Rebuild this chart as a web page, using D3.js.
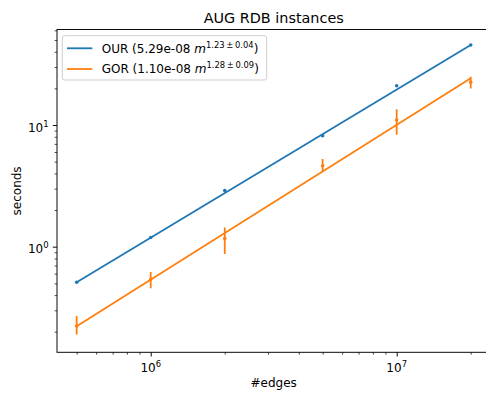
<!DOCTYPE html>
<html><head><meta charset="utf-8">
<script src="https://cdn.jsdelivr.net/npm/d3@7"></script>
<style>body{margin:0;background:#fff} text{font-family:"DejaVu Sans",sans-serif;fill:#000}</style>
</head><body><svg id="c" width="486" height="394"></svg>
<script>
// data
const edges = [5e5, 1e6, 2e6, 5e6, 1e7, 2e7];
const ourSec = [0.51, 1.19, 2.89, 8.17, 21.0, 45.4];
const ourLo = [0.505, 1.18, 2.86, 8.05, 20.7, 45.0];
const ourHi = [0.515, 1.20, 2.92, 8.30, 21.3, 45.8];
const gorSec = [0.223, 0.54, 1.17, 4.63, 11.0, 22.5];
const gorLo = [0.19, 0.455, 0.87, 4.13, 8.3, 20.0];
const gorHi = [0.269, 0.62, 1.44, 5.25, 13.5, 24.9];
const fitX = [5e5, 2e7];
const fitOur = [0.51, 45.4];
const fitGor = [0.222, 24.2];
const xMajor = [1e6, 1e7];
const xMajorExp = ["6", "7"];
const xMinor = [5e5, 6e5, 7e5, 8e5, 9e5, 2e6, 3e6, 4e6, 5e6, 6e6, 7e6, 8e6, 9e6, 2e7];
const yMajor = [1, 10];
const yMajorExp = ["0", "1"];
const yMinor = [0.2, 0.3, 0.4, 0.5, 0.6, 0.7, 0.8, 0.9, 2, 3, 4, 5, 6, 7, 8, 9, 20, 30, 40, 50, 60];
const series = [
  {name: "OUR", coef: "5.29e-08", exp: "1.23\u2009\u00b1\u20090.04", color: "#1f77b4", y: ourSec, lo: ourLo, hi: ourHi, fit: fitOur},
  {name: "GOR", coef: "1.10e-08", exp: "1.28\u2009\u00b1\u20090.09", color: "#ff7f0e", y: gorSec, lo: gorLo, hi: gorHi, fit: fitGor}
];

const svg = d3.select("#c");
const L = 57, R = 490.4, T = 29.5, B = 352.3;
const x = d3.scaleLog().domain([Math.pow(10, 5.619), Math.pow(10, 7.381)]).range([L, R]);
const y = d3.scaleLog().domain([Math.pow(10, -0.868), Math.pow(10, 1.785)]).range([B, T]);

const plot = svg.append("g");
plot.append("clipPath").attr("id", "clip").append("rect").attr("x", L).attr("y", T).attr("width", R - L).attr("height", B - T);
const g = plot.append("g").attr("clip-path", "url(#clip)");

series.forEach(s => {
  g.append("path").datum(fitX.map((v, i) => [v, s.fit[i]]))
    .attr("d", d3.line().x(d => x(d[0])).y(d => y(d[1])))
    .attr("fill", "none").attr("stroke", s.color).attr("stroke-width", 1.8);
  g.selectAll(null).data(edges).enter().append("line")
    .attr("x1", d => x(d)).attr("x2", d => x(d))
    .attr("y1", (d, i) => y(s.lo[i])).attr("y2", (d, i) => y(s.hi[i]))
    .attr("stroke", s.color).attr("stroke-width", 1.8);
  g.selectAll(null).data(edges).enter().append("circle")
    .attr("cx", d => x(d)).attr("cy", (d, i) => y(s.y[i])).attr("r", 1.8)
    .attr("fill", s.color);
});

// axes ticks
const axB = svg.append("g").attr("transform", `translate(0,${B})`);
axB.call(d3.axisBottom(x).tickValues(xMajor).tickFormat("").tickSizeInner(4.2).tickSizeOuter(0));
const axBm = svg.append("g").attr("transform", `translate(0,${B})`);
axBm.call(d3.axisBottom(x).tickValues(xMinor).tickFormat("").tickSizeInner(2.4).tickSizeOuter(0));
const axL = svg.append("g").attr("transform", `translate(${L},0)`);
axL.call(d3.axisLeft(y).tickValues(yMajor).tickFormat("").tickSizeInner(4.2).tickSizeOuter(0));
const axLm = svg.append("g").attr("transform", `translate(${L},0)`);
axLm.call(d3.axisLeft(y).tickValues(yMinor).tickFormat("").tickSizeInner(2.4).tickSizeOuter(0));
[axB, axBm, axL, axLm].forEach(a => {
  a.select(".domain").remove();
  a.selectAll(".tick line").attr("stroke", "#000").attr("stroke-width", 0.96);
});
axBm.selectAll(".tick line").attr("stroke-width", 0.7);
axLm.selectAll(".tick line").attr("stroke-width", 0.7);

// spines
svg.append("rect").attr("x", L).attr("y", T).attr("width", R - L).attr("height", B - T)
  .attr("fill", "none").attr("stroke", "#000").attr("stroke-width", 0.96);

// tick labels
xMajor.forEach((v, i) => {
  const t = svg.append("text").attr("x", x(v)).attr("y", 371.5).attr("text-anchor", "middle").attr("font-size", 12);
  t.append("tspan").text("10");
  t.append("tspan").attr("dy", -5).attr("font-size", 8.4).text(xMajorExp[i]);
});
yMajor.forEach((v, i) => {
  const t = svg.append("text").attr("x", 48.5).attr("y", y(v) + 6.5).attr("text-anchor", "end").attr("font-size", 12);
  t.append("tspan").text("10");
  t.append("tspan").attr("dy", -5).attr("font-size", 8.4).text(yMajorExp[i]);
});

// labels
svg.append("text").attr("x", (L + R) / 2).attr("y", 23).attr("text-anchor", "middle").attr("font-size", 14.4).text("AUG RDB instances");
svg.append("text").attr("x", (L + R) / 2).attr("y", 387).attr("text-anchor", "middle").attr("font-size", 12).text("#edges");
svg.append("text").attr("transform", `translate(21,${(T + B) / 2}) rotate(-90)`).attr("text-anchor", "middle").attr("font-size", 12).text("seconds");

// legend
const lg = svg.append("g");
lg.append("rect").attr("x", 62.3).attr("y", 35.7).attr("width", 204.4).attr("height", 44.3).attr("rx", 2.4)
  .attr("fill", "rgba(255,255,255,0.8)").attr("stroke", "#cccccc").attr("stroke-width", 0.96);
series.forEach((s, i) => {
  const yy = 48.3 + i * 20.7;
  lg.append("line").attr("x1", 67).attr("x2", 92.3).attr("y1", yy).attr("y2", yy).attr("stroke", s.color).attr("stroke-width", 1.8);
  const t = lg.append("text").attr("x", 101.7).attr("y", yy + 4.4).attr("font-size", 12);
  t.append("tspan").text(`${s.name} (${s.coef} `);
  t.append("tspan").attr("font-style", "italic").text("m");
  t.append("tspan").attr("dy", -5).attr("font-size", 8.4).text(s.exp);
  t.append("tspan").attr("dy", 5).text(")");
});
</script></body></html>
